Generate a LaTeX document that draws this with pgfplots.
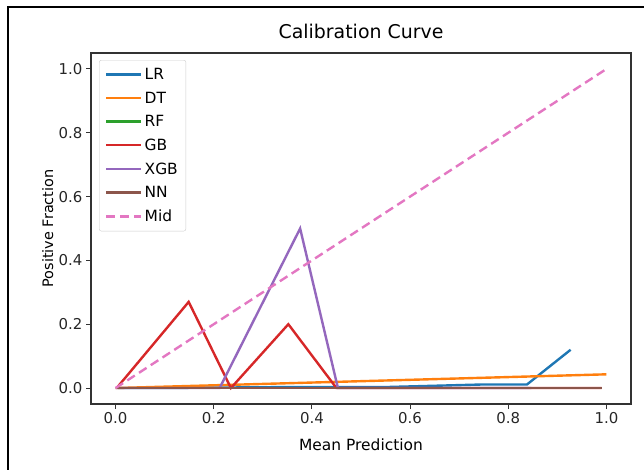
\documentclass[border=0pt]{standalone}
\usepackage{pgfplots}
\pgfplotsset{compat=1.18}
\usepackage{fontspec}
\setmainfont{DejaVu Sans}
\definecolor{c1}{HTML}{1F77B4}
\definecolor{c2}{HTML}{FF7F0E}
\definecolor{c3}{HTML}{2CA02C}
\definecolor{c4}{HTML}{D62728}
\definecolor{c5}{HTML}{9467BD}
\definecolor{c6}{HTML}{8C564B}
\definecolor{c7}{HTML}{E377C2}
\begin{document}
\begin{tikzpicture}
\useasboundingbox (0,0) rectangle (644bp,470bp);
\draw[line width=1.5bp, black] (8bp,0) -- (8bp,463bp) -- (644bp,463bp);
\begin{axis}[
  at={(91bp,66bp)}, anchor=south west,
  scale only axis, width=540bp, height=351bp,
  xmin=-0.05, xmax=1.05, ymin=-0.05, ymax=1.05,
  xtick={0,0.2,0.4,0.6,0.8,1.0},
  ytick={0,0.2,0.4,0.6,0.8,1.0},
  xticklabel style={/pgf/number format/.cd, fixed, fixed zerofill, precision=1},
  yticklabel style={/pgf/number format/.cd, fixed, fixed zerofill, precision=1},
  /pgf/number format/assume math mode=true,
  tick align=outside, xtick pos=left, ytick pos=left,
  major tick length=5bp,
  tick style={line width=1bp, black!80},
  axis line style={line width=1.2bp, black!80},
  ticklabel style={font=\fontsize{15}{17}\selectfont, text=black!85},
  title={Calibration Curve},
  title style={font=\fontsize{19}{22}\selectfont, at={(axis description cs:0.5,1.043)}, anchor=center},
  xlabel={Mean Prediction},
  xlabel style={font=\fontsize{15.5}{18}\selectfont, at={(axis description cs:0.5,-0.117)}, anchor=center},
  ylabel={Positive Fraction},
  ylabel style={font=\fontsize{14.5}{17}\selectfont, at={(axis description cs:-0.08,0.5)}, anchor=center, rotate=0},
  legend style={at={(0.015,0.98)}, anchor=north west, draw=black!20, rounded corners=2bp,
    font=\fontsize{15.5}{18}\selectfont, row sep=6.8bp, inner xsep=6bp, inner ysep=6bp},
  legend cell align=left,
  legend image code/.code={\draw[#1] (0bp,0bp) -- (35bp,0bp);},
  every axis plot/.append style={line width=2.4bp},
]
\addplot[c1] coordinates {(0.005,0.0) (0.08,0.0) (0.347,0.003) (0.548,0.003) (0.744,0.011) (0.838,0.011) (0.927,0.12)};
\addlegendentry{LR}
\addplot[c2] coordinates {(0.0,0.0) (1.0,0.043)};
\addlegendentry{DT}
\addplot[c3] coordinates {(0.0,0.0) (0.99,0.0)};
\addlegendentry{RF}
\addplot[c4] coordinates {(0.005,0.005) (0.149,0.27) (0.235,0.0) (0.352,0.2) (0.45,0.0) (0.99,0.0)};
\addlegendentry{GB}
\addplot[c5] coordinates {(0.0,0.0) (0.212,0.0) (0.376,0.5) (0.453,0.0) (0.847,0.0)};
\addlegendentry{XGB}
\addplot[c6] coordinates {(0.0,0.0) (0.99,0.0)};
\addlegendentry{NN}
\addplot[c7, dash pattern=on 9bp off 5bp] coordinates {(0.0,0.0) (1.0,1.0)};
\addlegendentry{Mid}
\end{axis}
\end{tikzpicture}
\end{document}
